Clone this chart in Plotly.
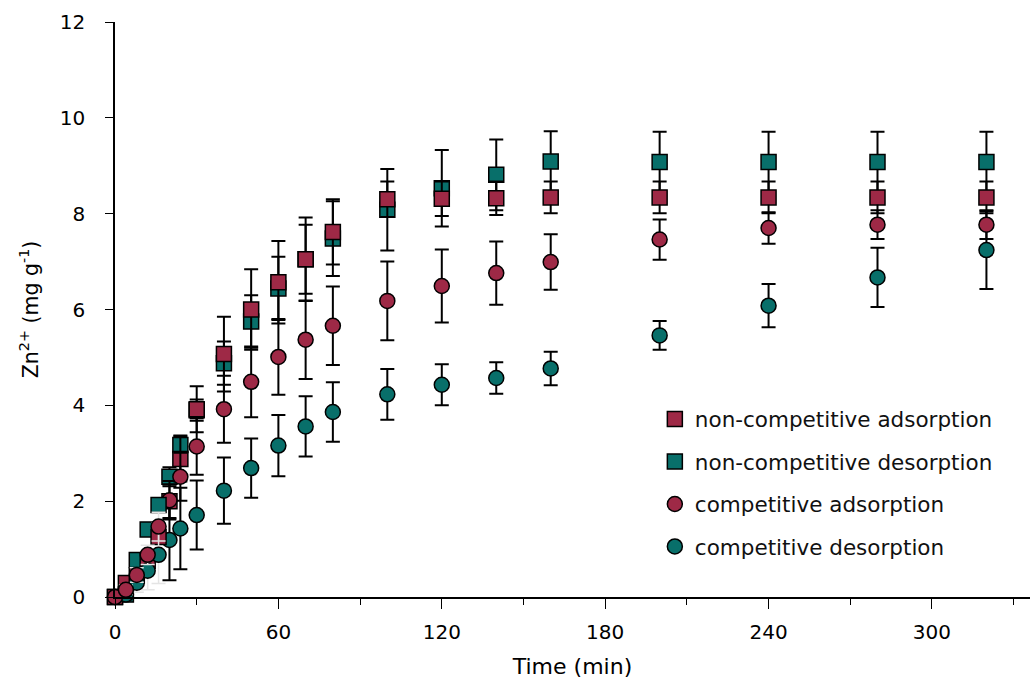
import plotly.graph_objects as go

time = [0, 4, 8, 12, 16, 20, 24, 30, 40, 50, 60, 70, 80, 100, 120, 140, 160, 200, 240, 280, 320]

nc_ads = [0.0, 0.29, 0.45, 0.75, 1.25, 2.0, 2.88, 3.92, 5.07, 6.0, 6.57, 7.05, 7.62, 8.30, 8.31, 8.32, 8.34, 8.34, 8.34, 8.34, 8.34]
nc_ads_err = [0, 0.1, 0.15, 0.2, 0.3, 0.35, 0.47, 0.48, 0.78, 0.84, 0.86, 0.72, 0.68, 0.37, 0.36, 0.35, 0.33, 0.33, 0.33, 0.33, 0.33]

nc_des = [0.0, 0.05, 0.77, 1.41, 1.92, 2.51, 3.17, 3.9, 4.88, 5.75, 6.44, 7.05, 7.48, 8.08, 8.53, 8.81, 9.09, 9.08, 9.08, 9.08, 9.08]
nc_des_err = [0, 0.1, 0.12, 0.12, 0.15, 0.2, 0.2, 0.22, 0.45, 0.55, 0.66, 0.87, 0.78, 0.85, 0.8, 0.74, 0.63, 0.63, 0.63, 0.63, 0.63]

c_ads = [0.0, 0.15, 0.46, 0.88, 1.47, 2.02, 2.51, 3.14, 3.92, 4.49, 5.01, 5.37, 5.66, 6.18, 6.49, 6.76, 6.99, 7.46, 7.70, 7.77, 7.77]
c_ads_err = [0, 0.1, 0.15, 0.2, 0.3, 0.4, 0.5, 0.59, 0.7, 0.74, 0.79, 0.82, 0.82, 0.82, 0.76, 0.66, 0.58, 0.42, 0.33, 0.3, 0.3]

c_des = [0.0, 0.05, 0.3, 0.55, 0.88, 1.19, 1.43, 1.71, 2.22, 2.69, 3.16, 3.56, 3.86, 4.23, 4.43, 4.57, 4.77, 5.46, 6.08, 6.67, 7.24]
c_des_err = [0, 0.1, 0.2, 0.4, 0.6, 0.84, 0.85, 0.72, 0.69, 0.62, 0.64, 0.63, 0.62, 0.53, 0.43, 0.33, 0.35, 0.3, 0.45, 0.62, 0.81]

x_ticks = [0, 60, 120, 180, 240, 300]

RED = "#9e2946"
TEAL = "#086f6a"
FONT = "DejaVu Sans"
EARLY = 16  # early points drawn with pale error bars

series = [
    # name, y, err, color, symbol, legend rank
    ("non-competitive desorption", nc_des, nc_des_err, TEAL, "square", 2),
    ("non-competitive adsorption", nc_ads, nc_ads_err, RED, "square", 1),
    ("competitive desorption", c_des, c_des_err, TEAL, "circle", 4),
    ("competitive adsorption", c_ads, c_ads_err, RED, "circle", 3),
]

fig = go.Figure()


def split(vals, early):
    return [v for t, v in zip(time, vals) if (t <= EARLY) == early]


for name, y, err, color, sym, rank in series:
    fig.add_trace(go.Scatter(
        x=split(time, False), y=split(y, False), name=name,
        mode="markers", legendrank=rank, legendgroup=name,
        marker=dict(symbol=sym, size=15, color=color, line=dict(color="black", width=1.5)),
        error_y=dict(type="data", array=split(err, False), visible=True,
                     color="black", thickness=2, width=7),
        cliponaxis=False,
    ))

for name, y, err, color, sym, rank in series:
    fig.add_trace(go.Scatter(
        x=split(time, True), y=split(y, True), name=name,
        mode="markers", showlegend=False, legendgroup=name,
        marker=dict(symbol=sym, size=15, color=color, line=dict(color="black", width=1.5)),
        error_y=dict(type="data", array=split(err, True), visible=True,
                     color="#e4e4e4", thickness=1.5, width=7),
        cliponaxis=False,
    ))

fig.update_layout(
    width=1030, height=679,
    margin=dict(l=115, r=0, t=22, b=82),
    paper_bgcolor="white", plot_bgcolor="white",
    font=dict(family=FONT, size=20, color="black"),
    showlegend=True,
    legend=dict(x=0.590, y=0.345, xanchor="left", yanchor="top",
                font=dict(family=FONT, size=21.5, color="#111111"),
                bgcolor="rgba(0,0,0,0)", tracegroupgap=11.5),
    xaxis=dict(
        range=[0, 336], tickmode="array", tickvals=x_ticks,
        ticks="outside", ticklen=10, tickwidth=1.2, tickcolor="black",
        showline=True, linecolor="black", linewidth=2,
        showgrid=False, zeroline=False,
        minor=dict(dtick=30, tick0=0, ticks="outside", ticklen=6, tickwidth=1.2, tickcolor="black"),
        ticklabelstandoff=6,
        tickfont=dict(family=FONT, size=20),
        title=dict(text="Time (min)", font=dict(family=FONT, size=22), standoff=17),
    ),
    yaxis=dict(
        range=[0, 12], dtick=2, tick0=0,
        ticks="outside", ticklen=8, tickwidth=1.2, tickcolor="black",
        showline=True, linecolor="black", linewidth=1.5,
        showgrid=False, zeroline=False,
        ticklabelstandoff=16,
        tickfont=dict(family=FONT, size=20),
        title=dict(text="Zn<sup>2+</sup> (mg g<sup>-1</sup>)", font=dict(family=FONT, size=20.5), standoff=16),
    ),
)

fig.write_html("out.html")
